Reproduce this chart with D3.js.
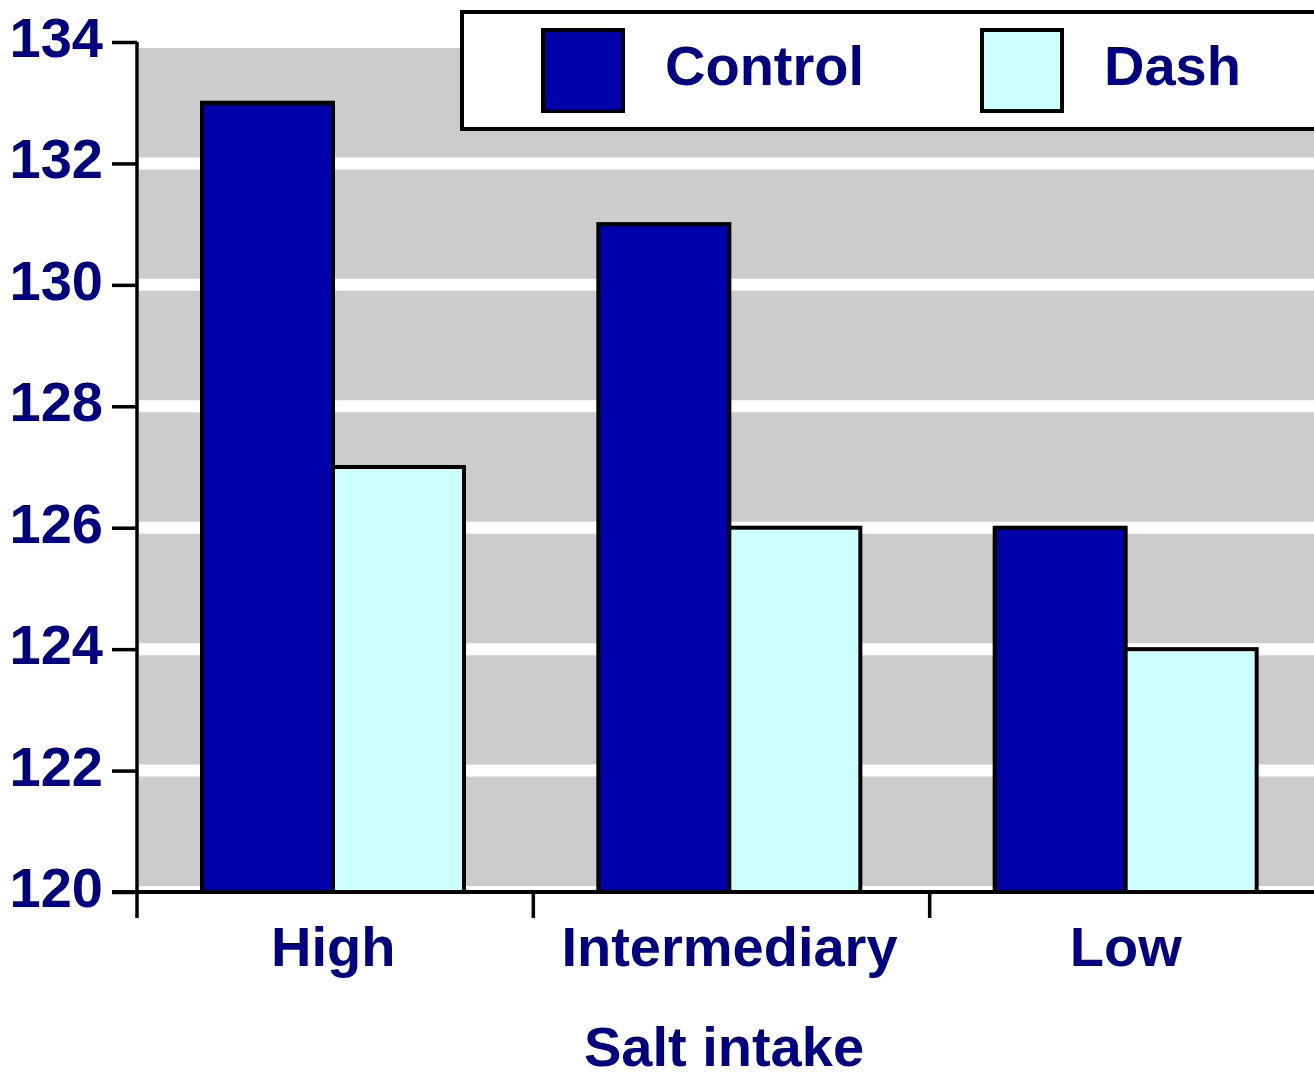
<!DOCTYPE html>
<html>
<head>
<meta charset="utf-8">
<script src="https://cdn.jsdelivr.net/npm/d3@7"></script>
<style>
  html, body { margin: 0; padding: 0; background: #fff; }
  svg { display: block; }
  text { font-family: "Liberation Sans", Arial, sans-serif; font-weight: bold; fill: #000080; }
</style>
</head>
<body>
<svg id="chart" width="1314" height="1079"></svg>
<script>
const categories = ["High", "Intermediary", "Low"];
const series = ["Control", "Dash"];
const controlValues = [133, 131, 126];
const dashValues = [127, 126, 124];
const yTicks = [120, 122, 124, 126, 128, 130, 132, 134];
const colors = { Control: "#0000AA", Dash: "#CCFFFF" };
const xTitle = "Salt intake";

const svg = d3.select("#chart");
const plotLeft = 137, plotRight = 1326, plotTop = 42, plotBottom = 892;

const y = d3.scaleLinear().domain([120, 134]).range([plotBottom, plotTop]);
const x0 = d3.scaleBand().domain(categories).range([plotLeft, plotRight]).padding(0);
const x1 = d3.scaleBand().domain(series).range([65, 327]).padding(0);

const data = categories.map((c, i) => ({ cat: c, Control: controlValues[i], Dash: dashValues[i] }));

// grey background
svg.append("rect")
  .attr("x", plotLeft + 2).attr("y", y(134))
  .attr("width", plotRight - plotLeft).attr("height", y(120) - y(134))
  .attr("fill", "#CCCCCC");

// white grid bands
svg.append("g").selectAll("line").data(yTicks).join("line")
  .attr("x1", plotLeft + 2).attr("x2", plotRight)
  .attr("y1", d => y(d)).attr("y2", d => y(d))
  .attr("stroke", "#fff").attr("stroke-width", 12);

// bars
const groups = svg.append("g").selectAll("g").data(data).join("g")
  .attr("transform", d => `translate(${x0(d.cat)},0)`);
groups.selectAll("rect").data(d => series.map(s => ({ s, v: d[s] }))).join("rect")
  .attr("x", d => x1(d.s))
  .attr("y", d => y(d.v))
  .attr("width", x1.bandwidth())
  .attr("height", d => y(120) - y(d.v))
  .attr("fill", d => colors[d.s])
  .attr("stroke", "#000")
  .attr("stroke-width", 4);

// y axis
const yAxis = d3.axisLeft(y).tickValues(yTicks).tickSize(25).tickPadding(9).tickFormat(d3.format("d"));
const yg = svg.append("g").attr("transform", `translate(${plotLeft},0)`).call(yAxis);
yg.select(".domain").attr("stroke", "#000").attr("stroke-width", 3.5)
  .attr("d", `M0,${plotTop}V${plotBottom}`);
yg.selectAll(".tick line").attr("stroke", "#000").attr("stroke-width", 3.5);
yg.selectAll(".tick text")
  .attr("font-size", 56).attr("x", -34).attr("dy", null).attr("y", 14.5)
  .style("font-family", '"Liberation Sans", Arial, sans-serif')
  .style("font-weight", "bold").attr("fill", "#000080");

// x axis
const xg = svg.append("g").attr("transform", `translate(0,${plotBottom})`);
xg.append("line").attr("x1", plotLeft - 25).attr("x2", plotRight)
  .attr("y1", 0).attr("y2", 0).attr("stroke", "#000").attr("stroke-width", 4);
xg.selectAll(".xt").data(categories).join("line").attr("class", "xt")
  .attr("x1", d => x0(d)).attr("x2", d => x0(d))
  .attr("y1", 0).attr("y2", 26).attr("stroke", "#000").attr("stroke-width", 3.5);
xg.selectAll(".xl").data(categories).join("text").attr("class", "xl")
  .attr("x", d => x0(d) + x0.bandwidth() / 2 - 2)
  .attr("y", 74)
  .attr("text-anchor", "middle")
  .attr("font-size", 56)
  .text(d => d);

svg.append("text")
  .attr("x", 724).attr("y", 1066)
  .attr("text-anchor", "middle").attr("font-size", 56)
  .text(xTitle);

// legend
const lg = svg.append("g");
lg.append("rect").attr("x", 462).attr("y", 12).attr("width", 900).attr("height", 117)
  .attr("fill", "#fff").attr("stroke", "#000").attr("stroke-width", 4);
const legendPos = [{ s: "Control", sx: 543, tx: 665 }, { s: "Dash", sx: 982, tx: 1104 }];
lg.selectAll(".sw").data(legendPos).join("rect").attr("class", "sw")
  .attr("x", d => d.sx).attr("y", 30).attr("width", 80).attr("height", 81)
  .attr("fill", d => colors[d.s]).attr("stroke", "#000").attr("stroke-width", 4);
lg.selectAll(".lt").data(legendPos).join("text").attr("class", "lt")
  .attr("x", d => d.tx).attr("y", 85).attr("font-size", 56)
  .text(d => d.s);
</script>
</body>
</html>
